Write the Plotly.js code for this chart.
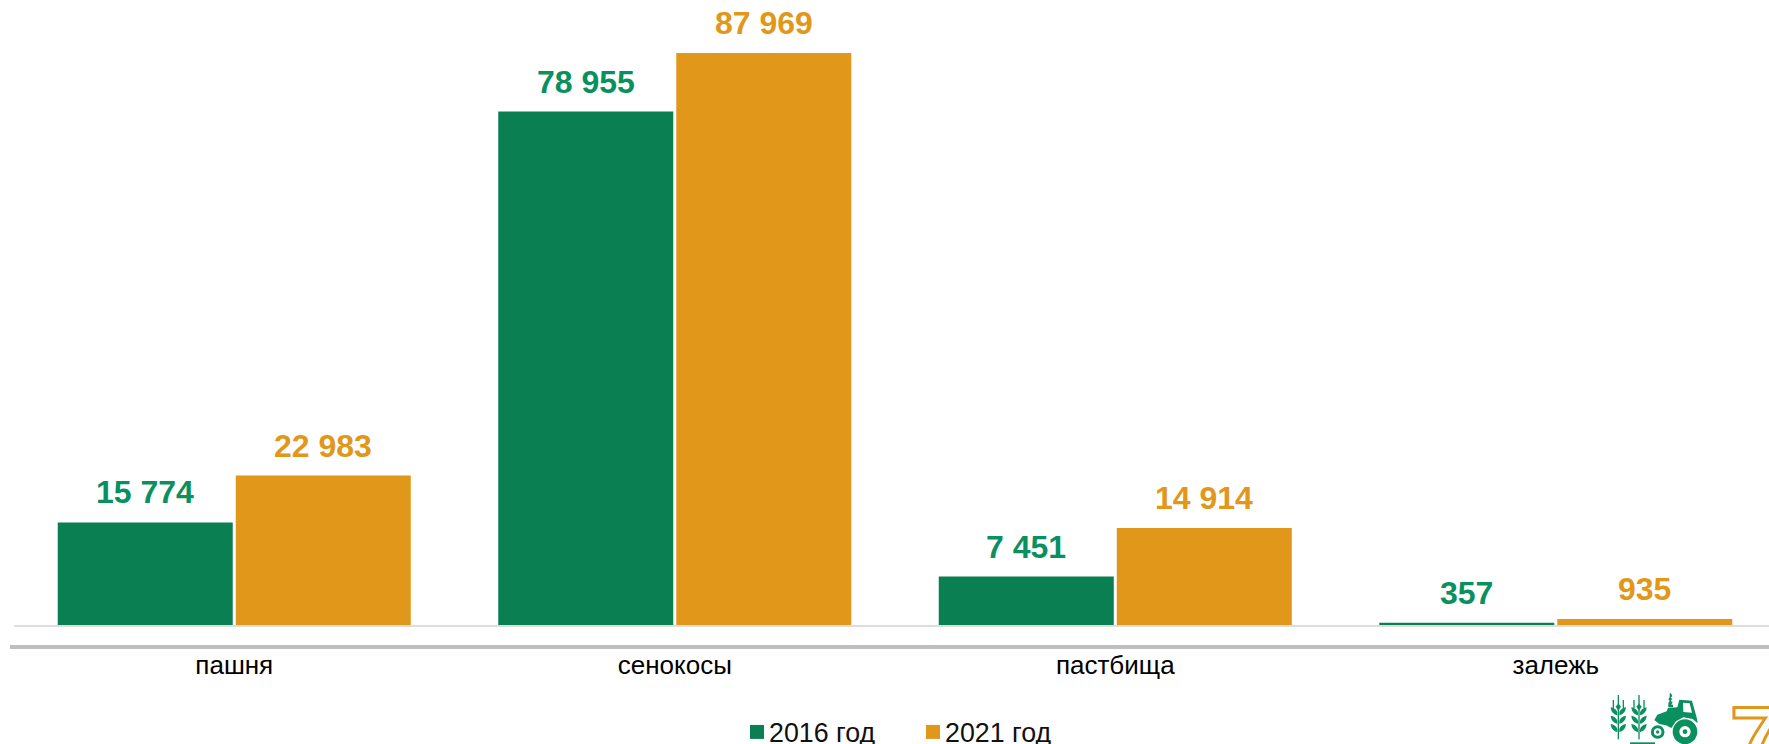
<!DOCTYPE html>
<html><head><meta charset="utf-8">
<script src="https://cdn.plot.ly/plotly-3.0.1.min.js"></script>
<style>html,body{margin:0;padding:0;background:#fff;overflow:hidden}#c{width:1769px;height:744px}
.annotation[data-index="8"] text{fill:#fff !important;stroke:#E1971A;stroke-width:3px}</style>
</head><body><div id="c"></div>
<script>
const categories=['пашня','сенокосы','пастбища','залежь'];
const values2016=[15774,78955,7451,357];
const values2021=[22983,87969,14914,935];
const labels2016=['15 774','78 955','7 451','357'];
const labels2021=['22 983','87 969','14 914','935'];
const green='#0A7F52', labelGreen='#0A8F5F', orange='#E1971A';
const W=1769,H=744,L=14,PW=1755,PH=625;
const leaf=(x)=>[78,103,128].map(y=>`M${x-3} ${y+16}C${x-18} ${y+12} ${x-22} ${y+2} ${x-23} ${y-8}C${x-12} ${y-6} ${x-4} ${y} ${x-3} ${y+8}ZM${x+3} ${y+16}C${x+18} ${y+12} ${x+22} ${y+2} ${x+23} ${y-8}C${x+12} ${y-6} ${x+4} ${y} ${x+3} ${y+8}Z`).join('');
const wheat=(x)=>`<path d="${leaf(x)}"/><rect x="${x-2}" y="62" width="4" height="104"/><rect x="${x-2}" y="33" width="4" height="28"/><rect x="${x-17}" y="48" width="4" height="24"/><rect x="${x+13}" y="48" width="4" height="24"/><path d="M${x} 58l8 10-8 12-8-12z"/>`;
const icon=`<svg xmlns="http://www.w3.org/2000/svg" viewBox="0 0 300 180"><g fill="${labelGreen}">${wheat(55)}${wheat(117)}
<path d="M163 108L172 92L200 82L204 72L232 70L238 47L276 50L291 104L293 118L278 105L250 100L228 112L214 132L198 124L178 120Z" fill-rule="evenodd"/>
<path d="M249 56L269 58L276 86L250 84Z" fill="#fff"/>
<path d="M205 70h14V62h-5l4-8-6-3 5-6-5-4 5-5-4-8h-4v12l-4 6 4 5-4 6z"/>
<circle cx="173" cy="144" r="16" fill="none" stroke="${labelGreen}" stroke-width="9"/><circle cx="173" cy="144" r="5"/>
<circle cx="255" cy="143" r="27" fill="none" stroke="${labelGreen}" stroke-width="20"/><circle cx="255" cy="143" r="7"/>
<rect x="90" y="175" width="75" height="5"/></g></svg>`;
const slot=0.202;
const ann=(vals,labs,off,col)=>vals.map((v,i)=>({xref:'x',yref:'y',x:i+off,y:v,text:labs[i],showarrow:false,yanchor:'bottom',xanchor:'center',yshift:10,
  font:{family:'Liberation Sans',size:32,weight:700,color:col}}));
const data=[
 {type:'bar',name:'2016 год',x:categories,y:values2016,marker:{color:green},hoverinfo:'x+y'},
 {type:'bar',name:'2021 год',x:categories,y:values2021,marker:{color:orange},hoverinfo:'x+y'}
];
const layout={
 width:W,height:H,margin:{l:L,r:0,t:0,b:H-PH,pad:0,autoexpand:false},paper_bgcolor:'#fff',plot_bgcolor:'#fff',
 font:{family:'Liberation Sans',color:'#000',size:26},
 barmode:'group',bargap:0.1917,bargroupgap:0.0169,
 xaxis:{type:'category',range:[-0.5,3.484],showgrid:false,zeroline:false,showline:true,linecolor:'#DDDDDD',linewidth:2,
  ticks:'outside',ticklen:16,tickcolor:'rgba(0,0,0,0)',tickfont:{family:'Liberation Sans',size:26,color:'#000'}},
 yaxis:{range:[0,96120],visible:false},
 showlegend:true,
 legend:{orientation:'h',x:(729-L)/PW,xanchor:'left',y:-(708-PH)/PH,yanchor:'top',entrywidth:131,itemclick:false,itemdoubleclick:false,
   font:{family:'Liberation Sans',size:26.8,color:'#111'},traceorder:'normal'},
 shapes:[{type:'line',xref:'paper',yref:'paper',x0:(10-L)/PW,x1:1,y0:-22/PH,y1:-22/PH,line:{color:'#BFBFBF',width:4}}],
 annotations:[...ann(values2016,labels2016,-slot,labelGreen),...ann(values2021,labels2021,slot,orange),
  {text:'7',xref:'paper',yref:'paper',x:(1728-L)/PW,xanchor:'left',y:(PH-686)/PH,yanchor:'top',showarrow:false,font:{family:'Liberation Sans',size:92,weight:700,color:'#fff'}}],
 images:[{source:'data:image/svg+xml;utf8,'+encodeURIComponent(icon),xref:'paper',yref:'paper',x:(1600-L)/PW,y:(PH-684)/PH,sizex:100/PW,sizey:60/PH,xanchor:'left',yanchor:'top',sizing:'stretch'}]
};
Plotly.newPlot('c',data,layout,{displayModeBar:false,responsive:false}).then(gd=>{
  // tighten legend swatches toward their labels, as in the reference
  gd.querySelectorAll('.legend .legendpoints path').forEach(p=>{p.setAttribute('d','M7,7H-7V-7H7Z');});
  gd.querySelectorAll('.legend .legendpoints').forEach(p=>{p.setAttribute('transform','translate(8,0)');});
});
</script></body></html>
